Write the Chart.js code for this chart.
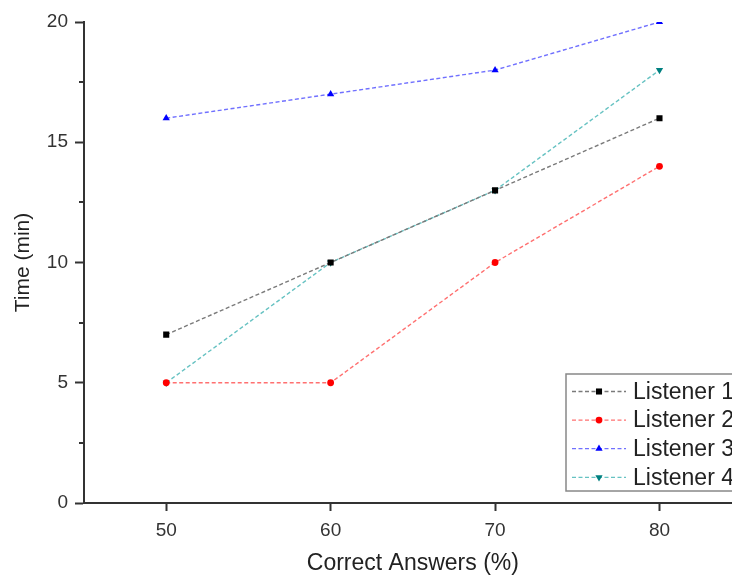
<!DOCTYPE html>
<html>
<head>
<meta charset="utf-8">
<script src="https://cdn.jsdelivr.net/npm/chart.js@4/dist/chart.umd.min.js"></script>
<style>
  html, body { margin: 0; padding: 0; background: #fff; overflow: hidden; }
  #wrap { width: 746px; height: 579px; }
</style>
</head>
<body>
<div id="wrap"><canvas id="chart" width="746" height="579"></canvas></div>
<script>
const correctAnswers = [50, 60, 70, 80];
const listener1 = [7, 10, 13, 16];
const listener2 = [5, 5, 10, 14];
const listener3 = [16, 17, 18, 20];
const listener4 = [5, 10, 13, 18];
const seriesNames = ['Listener 1', 'Listener 2', 'Listener 3', 'Listener 4'];
const yMinorTicks = [2.5, 7.5, 12.5, 17.5];

const FONT = "'Liberation Sans', Arial, sans-serif";

function pts(vals) {
    return correctAnswers.map((x, i) => ({ x: x, y: vals[i] }));
}

function makeSet(label, vals, lineColor, markColor, style, radius, rot) {
    return {
        label: label,
        data: pts(vals),
        borderColor: lineColor,
        borderWidth: 1.4,
        borderDash: [4, 2.5],
        backgroundColor: markColor,
        pointBackgroundColor: markColor,
        pointBorderColor: markColor,
        pointBorderWidth: 0,
        pointStyle: style,
        pointRotation: rot || 0,
        pointRadius: radius,
        fill: false,
        tension: 0
    };
}

// minor ticks on the y axis + legend box
const extrasPlugin = {
    id: 'extras',
    afterDraw(chart) {
        const ctx = chart.ctx;
        const ys = chart.scales.y;
        ctx.save();
        ctx.strokeStyle = '#333';
        ctx.lineWidth = 2;
        yMinorTicks.forEach(v => {
            const py = Math.round(ys.getPixelForValue(v));
            ctx.beginPath();
            ctx.moveTo(ys.right - 5, py);
            ctx.lineTo(ys.right, py);
            ctx.stroke();
        });

        // legend
        const bx = 566, by = 374, bw = 200, bh = 117;
        ctx.fillStyle = '#fff';
        ctx.fillRect(bx, by, bw, bh);
        ctx.strokeStyle = '#888';
        ctx.lineWidth = 1.5;
        ctx.strokeRect(bx, by, bw, bh);
        chart.data.datasets.forEach((ds, i) => {
            const ry = 391.5 + i * 28.6;
            ctx.save();
            ctx.strokeStyle = ds.borderColor;
            ctx.lineWidth = 1.3;
            ctx.setLineDash([4, 2.5]);
            ctx.beginPath();
            ctx.moveTo(572, ry);
            ctx.lineTo(626, ry);
            ctx.stroke();
            ctx.restore();
            ctx.fillStyle = ds.pointBackgroundColor;
            ctx.strokeStyle = ds.pointBackgroundColor;
            Chart.helpers.drawPoint(ctx, {
                pointStyle: ds.pointStyle,
                rotation: ds.pointRotation,
                radius: ds.pointRadius,
                borderWidth: 0
            }, 599, ry);
            ctx.fillStyle = '#222';
            ctx.font = '23px ' + FONT;
            ctx.textBaseline = 'middle';
            ctx.textAlign = 'left';
            ctx.fillText(ds.label, 633, ry + 1);
        });
        ctx.restore();
    }
};

new Chart(document.getElementById('chart'), {
    type: 'line',
    data: {
        datasets: [
            makeSet(seriesNames[0], listener1, '#7a7a7a', '#000000', 'rect', 4.3),
            makeSet(seriesNames[1], listener2, '#ff7070', '#ff0000', 'circle', 3.4),
            makeSet(seriesNames[2], listener3, '#7070ff', '#0000ff', 'triangle', 4.2),
            makeSet(seriesNames[3], listener4, '#66c2c2', '#008080', 'triangle', 4.2, 180)
        ]
    },
    options: {
        responsive: false,
        animation: false,
        layout: { padding: { top: 22, right: 0, left: 0, bottom: 0 } },
        plugins: {
            legend: { display: false },
            tooltip: { enabled: false }
        },
        scales: {
            x: {
                type: 'linear',
                min: 45,
                max: 85,
                afterBuildTicks: (axis) => {
                    axis.ticks = correctAnswers.map(v => ({ value: v }));
                },
                afterFit: (axis) => { axis.height = 76; },
                border: { display: true, color: '#333', width: 2 },
                grid: { drawOnChartArea: false, drawTicks: true, tickLength: 8, tickColor: '#333', tickWidth: 2 },
                ticks: { color: '#333', font: { family: FONT, size: 19 }, padding: 8 },
                title: {
                    display: true,
                    text: 'Correct Answers (%)',
                    color: '#222',
                    font: { family: FONT, size: 23 },
                    padding: { top: 6, bottom: 2 }
                }
            },
            y: {
                min: 0,
                max: 20,
                ticks: { stepSize: 5, color: '#333', font: { family: FONT, size: 19 }, padding: 7 },
                afterFit: (axis) => { axis.width = 84; },
                border: { display: true, color: '#333', width: 2 },
                grid: { drawOnChartArea: false, drawTicks: true, tickLength: 9, tickColor: '#333', tickWidth: 2 },
                title: {
                    display: true,
                    text: 'Time (min)',
                    color: '#222',
                    font: { family: FONT, size: 21 },
                    padding: { top: 11, bottom: 0 }
                }
            }
        }
    },
    plugins: [extrasPlugin]
});
</script>
</body>
</html>
